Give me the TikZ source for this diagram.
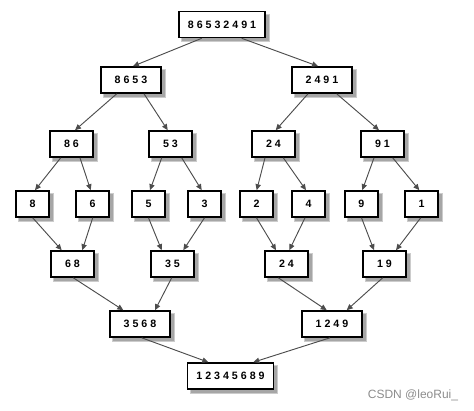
\documentclass[tikz,border=0pt]{standalone}
\usepackage{fontspec}
\setmainfont{Liberation Sans}
\usetikzlibrary{arrows.meta,calc,backgrounds}
\begin{document}
\begin{tikzpicture}[x=0.75pt,y=-0.75pt,
  box/.style={draw=black,line width=1.2pt,fill=white,inner sep=0pt,
    minimum height=19.5pt,font=\fontsize{8}{9}\selectfont\bfseries},
  w86/.style={box,minimum width=64.5pt},
  w60/.style={box,minimum width=45pt},
  w43/.style={box,minimum width=32.25pt},
  w33/.style={box,minimum width=24.75pt},
  shade/.style={fill=black!35,draw=black!20,line width=0.8pt},
  conn/.style={draw=black!70,line width=0.7pt,-{Triangle[length=4.5pt,width=4pt]}}
]
\useasboundingbox (0,0) rectangle (474,410);
\node[w86] (top) at (222,24.5) {8 6 5 3 2 4 9 1};
\node[w60] (a1) at (131,80) {8 6 5 3};
\node[w60] (a2) at (322,80) {2 4 9 1};
\node[w43] (b1) at (71.5,144) {8 6};
\node[w43] (b2) at (170.5,144) {5 3};
\node[w43] (b3) at (273.5,144) {2 4};
\node[w43] (b4) at (382.5,144) {9 1};
\node[w33] (c1) at (32.5,204) {8};
\node[w33] (c2) at (92.5,204) {6};
\node[w33] (c3) at (148.5,204) {5};
\node[w33] (c4) at (204.5,204) {3};
\node[w33] (c5) at (256.5,204) {2};
\node[w33] (c6) at (308.5,204) {4};
\node[w33] (c7) at (361.3,204) {9};
\node[w33] (c8) at (421.5,204) {1};
\node[w43] (d1) at (72.5,264) {6 8};
\node[w43] (d2) at (172.5,264) {3 5};
\node[w43] (d3) at (286.5,264) {2 4};
\node[w43] (d4) at (384.5,264) {1 9};
\node[w60] (e1) at (140,324) {3 5 6 8};
\node[w60] (e2) at (332,324) {1 2 4 9};
\node[w86] (f) at (230.5,376) {1 2 3 4 5 6 8 9};
\node[text=black!45,font=\fontsize{9}{10}\selectfont,anchor=center] (wm) at (413,395) {CSDN @leoRui\_};
\begin{scope}[on background layer]
\foreach \n in {top,a1,a2,b1,b2,b3,b4,c1,c2,c3,c4,c5,c6,c7,c8,d1,d2,d3,d4,e1,e2,f}
  \filldraw[shade] ($(\n.south west)+(3.5,3.5)$) rectangle ($(\n.north east)+(3.5,3.5)$);
\end{scope}
\newcommand{\lnk}[4]{\draw[conn] ($(#1.south)+(#2,0)$) -- ($(#3.north)+(#4,0)$);}
\lnk{top}{-20.3}{a1}{2}
\lnk{top}{19.7}{a2}{-4}
\lnk{a1}{-14.3}{b1}{3.5}
\lnk{a1}{13}{b2}{-2.8}
\lnk{a2}{-14}{b3}{2.2}
\lnk{a2}{14.7}{b4}{-3.5}
\lnk{b1}{-10.8}{c1}{2.5}
\lnk{b1}{8.5}{c2}{-1.8}
\lnk{b2}{-8.8}{c3}{1.5}
\lnk{b2}{11.2}{c4}{-2.8}
\lnk{b3}{-8.5}{c5}{0.2}
\lnk{b3}{9.8}{c6}{-2.5}
\lnk{b4}{-8.5}{c7}{1.0}
\lnk{b4}{10.2}{c8}{-2.2}
\lnk{c1}{0.2}{d1}{-10.8}
\lnk{c2}{0.2}{d1}{9.8}
\lnk{c3}{0}{d2}{-10.8}
\lnk{c4}{0}{d2}{10.8}
\lnk{c5}{0}{d3}{-10.5}
\lnk{c6}{-3.5}{d3}{2.8}
\lnk{c7}{0.2}{d4}{-10.5}
\lnk{c8}{-0.8}{d4}{11.5}
\lnk{d1}{0.8}{e1}{-16.7}
\lnk{d2}{-0.8}{e1}{15}
\lnk{d3}{-8.2}{e2}{-5.3}
\lnk{d4}{-1.8}{e2}{14.7}
\lnk{e1}{1.7}{f}{-22.2}
\lnk{e2}{-2}{f}{22.8}
\end{tikzpicture}
\end{document}
